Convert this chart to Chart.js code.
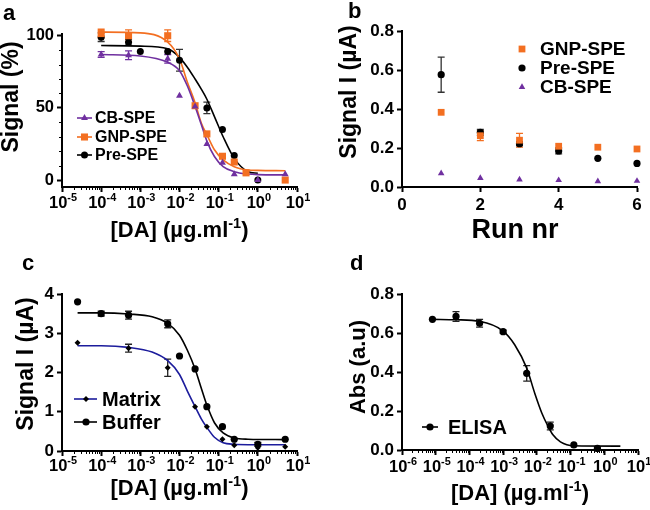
<!DOCTYPE html>
<html>
<head>
<meta charset="utf-8">
<script src="https://cdn.jsdelivr.net/npm/chart.js@4.4.1/dist/chart.umd.min.js"></script>
<style>
  body { margin: 0; background: #fff; }
  #fig { position: relative; width: 650px; height: 510px; }
  canvas { position: absolute; }
</style>
</head>
<body>
<div id="fig">
  <canvas id="pa" width="325" height="255" style="left:0;top:0"></canvas>
  <canvas id="pb" width="325" height="255" style="left:325px;top:0"></canvas>
  <canvas id="pc" width="325" height="255" style="left:0;top:255px"></canvas>
  <canvas id="pd" width="325" height="255" style="left:325px;top:255px"></canvas>
</div>
<script>
// ---- panel a : signal (%) vs dose ----
var aDose = [1e-4, 5e-4, 1e-3, 5e-3, 1e-2, 2.5e-2, 5e-2, 1.25e-1, 2.5e-1, 5e-1, 1, 5];
var aCB = [87, 86.5, null, 84, 58.5, 51, 25, 12, 4, null, 0, 4];
var aCBErr = [2, 3, 0, 3, 0, 0, 0, 0, 0, 0, 0, 0];
var aGNP = [101.5, 100, null, 100, null, 51.5, 32, 16.5, 12.5, 5, null, 0];
var aGNPErr = [3, 4, 0, 4, 0, 0, 0, 0, 0, 0, 0, 0];
var aPre = [99, 95.5, 89, 89, 83, null, 50, 35, 17, null, 0, null];
var aPreErr = [3, 2, 0, 0, 7.5, 0, 4, 0, 0, 0, 0, 0];
var aFitDose = [1e-4, 1e-3, 5e-3, 1e-2, 1.6e-2, 2.5e-2, 3.6e-2, 5e-2, 7.8e-2, 1.3e-1, 2.5e-1, 5.6e-1, 1, 5];
var aFitCB = [87, 86, 81.6, 75.8, 65, 51, 38.5, 27, 16.3, 9.3, 5.8, 4.2, 3.8, 3.6];
var aFitGNP = [102.5, 102, 95.6, 84, 67.6, 53.6, 39.6, 31.5, 21, 14, 9.3, 7, 6.7, 6.5];
var aFitPre = [93.2, 92.8, 91, 85, 78, 70, 63, 56, 44, 30, 15, 5.8, 4.7, null];
var aYTicks = [0, 50, 100];
var aYMinor = [10, 20, 30, 40, 60, 70, 80, 90];

// ---- panel b : signal vs run number ----
var bRuns = [1, 2, 3, 4, 5, 6];
var bGNP = [0.383, 0.263, 0.24, 0.209, 0.204, 0.195];
var bGNPErr = [0, 0.025, 0.035, 0, 0, 0];
var bPre = [0.576, 0.28, 0.222, 0.185, 0.147, 0.121];
var bPreErr = [0.09, 0.015, 0.01, 0.015, 0, 0];
var bCB = [0.07, 0.046, 0.038, 0.035, 0.029, 0.031];
var bXTicks = [0, 2, 4, 6];
var bYTicks = [0, 0.2, 0.4, 0.6, 0.8];

// ---- panel c : matrix vs buffer ----
var cDose = [2.5e-5, 1e-4, 5e-4, 5e-3, 1e-2, 2.5e-2, 5e-2, 1.25e-1, 2.5e-1, 1, 5];
var cBuffer = [3.8, 3.5, 3.46, 3.24, 2.42, 2.09, 1.13, 0.62, 0.3, 0.17, 0.3];
var cBufferErr = [0, 0.06, 0.1, 0.1, 0, 0, 0, 0, 0, 0.05, 0];
var cMatrix = [2.76, null, 2.62, 2.12, null, 1.13, 0.62, 0.3, 0.145, 0.085, 0.11];
var cMatrixErr = [0, 0, 0.1, 0.22, 0, 0, 0, 0, 0, 0, 0];
var cFitDose = [2.5e-5, 1e-4, 5e-4, 2e-3, 5e-3, 1e-2, 1.6e-2, 2.5e-2, 3.6e-2, 5e-2, 7.8e-2, 1.3e-1, 2.5e-1, 5.6e-1, 5];
var cFitBuffer = [3.52, 3.52, 3.49, 3.42, 3.25, 2.95, 2.56, 2.09, 1.6, 1.17, 0.72, 0.46, 0.33, 0.3, 0.29];
var cFitMatrix = [2.68, 2.68, 2.64, 2.52, 2.3, 1.95, 1.52, 1.13, 0.82, 0.6, 0.35, 0.21, 0.17, 0.16, 0.16];
var cYTicks = [0, 1, 2, 3, 4];

// ---- panel d : ELISA ----
var dDose = [8e-6, 4e-5, 2e-4, 1e-3, 5e-3, 2.5e-2, 1.25e-1, 6.25e-1];
var dElisa = [0.67, 0.685, 0.65, 0.607, 0.393, 0.123, 0.026, 0.008];
var dElisaErr = [0, 0.025, 0.02, 0.008, 0.04, 0.02, 0, 0.008];
var dFitDose = [8e-6, 4e-5, 2e-4, 1e-3, 2.2e-3, 5e-3, 8.7e-3, 1.4e-2, 2.1e-2, 3e-2, 5e-2, 1.25e-1, 3];
var dFitElisa = [0.67, 0.668, 0.66, 0.61, 0.54, 0.42, 0.29, 0.19, 0.125, 0.078, 0.042, 0.022, 0.02];
var dYTicks = [0, 0.2, 0.4, 0.6, 0.8];

var FAM = '"Liberation Sans", Arial, Helvetica, sans-serif';
Chart.defaults.font.family = FAM;
Chart.defaults.font.weight = 'bold';
Chart.defaults.color = '#000';

var PURPLE = '#7030a0', ORANGE = '#f36f21', BLACK = '#000', BLUE = '#1c1c9c';

function font(px) { return 'bold ' + px + 'px ' + FAM; }

function pts(xs, ys, es) {
  var out = [];
  xs.forEach(function (x, i) {
    if (ys[i] != null) out.push({ x: x, y: ys[i], e: es ? es[i] : 0 });
  });
  return out;
}

function markers(xs, ys, es, color, style, r, errColor) {
  return {
    data: pts(xs, ys, es), showLine: false, pointStyle: style, pointRadius: r,
    backgroundColor: color, borderColor: color, borderWidth: 0, clip: false,
    errColor: errColor || color
  };
}

function fit(xs, ys, color) {
  return {
    type: 'line', data: pts(xs, ys), pointRadius: 0, borderColor: color, borderWidth: 1.6,
    cubicInterpolationMode: 'monotone', fill: false, clip: false
  };
}

var tickGrid = { display: true, drawOnChartArea: false, drawTicks: true, tickLength: 5, tickWidth: 2, tickColor: '#000' };
var axisBorder = { display: true, color: '#000', width: 2 };

function fixed(list) {
  return function (s) { s.ticks = list.map(function (v) { return { value: v }; }); };
}

function logX(min, max, h) {
  var dec = [];
  for (var n = Math.round(Math.log10(min)); n <= Math.round(Math.log10(max)); n++) dec.push(Math.pow(10, n));
  return {
    type: 'logarithmic', min: min, max: max,
    afterBuildTicks: fixed(dec),
    afterFit: function (s) { s.height = h; },
    ticks: { display: false },
    grid: tickGrid, border: axisBorder
  };
}

function linY(min, max, list, w, size, digits) {
  return {
    type: 'linear', min: min, max: max,
    afterBuildTicks: fixed(list),
    afterFit: function (s) { s.width = w; },
    ticks: {
      padding: 3, font: { size: size, weight: 'bold' },
      callback: function (v) { return digits ? v.toFixed(digits) : String(v); }
    },
    grid: tickGrid, border: axisBorder
  };
}

function drawParts(ctx, parts, cx, baseY, size) {
  var w = 0;
  parts.forEach(function (p) {
    ctx.font = font(p[1] ? size * 0.66 : size);
    p.w = ctx.measureText(p[0]).width;
    w += p.w;
  });
  var x = cx - w / 2;
  ctx.textAlign = 'left';
  ctx.textBaseline = 'alphabetic';
  parts.forEach(function (p) {
    ctx.font = font(p[1] ? size * 0.66 : size);
    ctx.fillText(p[0], x, p[1] ? baseY - size * 0.42 : baseY);
    x += p.w;
  });
}

function makeDeco(o) {
  return {
    id: 'deco',
    beforeDatasetsDraw: function (chart) {
      var ctx = chart.ctx, xs = chart.scales.x, ys = chart.scales.y;
      chart.data.datasets.forEach(function (ds) {
        if (!ds.errColor) return;
        ctx.save();
        ctx.strokeStyle = ds.errColor;
        ctx.lineWidth = 1.3;
        ds.data.forEach(function (p) {
          if (!p.e) return;
          var px = xs.getPixelForValue(p.x);
          var t = ys.getPixelForValue(p.y + p.e), b = ys.getPixelForValue(p.y - p.e);
          ctx.beginPath();
          ctx.moveTo(px, t); ctx.lineTo(px, b);
          ctx.moveTo(px - 3.5, t); ctx.lineTo(px + 3.5, t);
          ctx.moveTo(px - 3.5, b); ctx.lineTo(px + 3.5, b);
          ctx.stroke();
        });
        ctx.restore();
      });
    },
    afterDraw: function (chart) {
      var ctx = chart.ctx, xs = chart.scales.x, ys = chart.scales.y, area = chart.chartArea;
      ctx.save();
      ctx.fillStyle = '#000';
      ctx.strokeStyle = '#000';
      if (xs.type === 'logarithmic') {
        var lo = Math.round(Math.log10(xs.min)), hi = Math.round(Math.log10(xs.max));
        ctx.lineWidth = 1;
        ctx.beginPath();
        for (var n = lo; n < hi; n++) {
          for (var k = 2; k < 10; k++) {
            var px = Math.round(xs.getPixelForValue(k * Math.pow(10, n))) + 0.5;
            ctx.moveTo(px, area.bottom); ctx.lineTo(px, area.bottom + 3);
          }
        }
        ctx.stroke();
        for (var m = lo; m <= hi; m++) {
          drawParts(ctx, [['10', 0], [String(m), 1]], xs.getPixelForValue(Math.pow(10, m)) + 1, o.tickBase, 16.5);
        }
      }
      if (o.yMinor) {
        ctx.lineWidth = 1;
        ctx.beginPath();
        o.yMinor.forEach(function (v) {
          var py = Math.round(ys.getPixelForValue(v)) + 0.5;
          ctx.moveTo(area.left, py); ctx.lineTo(area.left - 3, py);
        });
        ctx.stroke();
      }
      // axis titles
      drawParts(ctx, o.xTitle.parts, o.xTitle.x, o.xTitle.y, o.xTitle.size);
      ctx.save();
      ctx.translate(o.yTitle.x, o.yTitle.y);
      ctx.rotate(-Math.PI / 2);
      ctx.font = font(o.yTitle.size);
      ctx.textAlign = 'center';
      ctx.textBaseline = 'middle';
      ctx.fillText(o.yTitle.text, 0, 0);
      ctx.restore();
      // panel letter
      ctx.font = font(22);
      ctx.textAlign = 'left';
      ctx.textBaseline = 'alphabetic';
      ctx.fillText(o.letter[0], o.letter[1], o.letter[2]);
      // legend
      o.legend.forEach(function (it) {
        ctx.strokeStyle = it.color;
        if (it.line) {
          ctx.lineWidth = 1.6;
          ctx.beginPath();
          ctx.moveTo(it.line[0], it.y); ctx.lineTo(it.line[1], it.y);
          ctx.stroke();
        }
        ctx.fillStyle = it.dot || it.color;
        Chart.helpers.drawPoint(ctx, { pointStyle: it.style, radius: it.r, rotation: 0, borderWidth: 0 }, it.mx, it.y);
        ctx.fillStyle = '#000';
        ctx.font = font(it.size);
        ctx.textAlign = 'left';
        ctx.textBaseline = 'middle';
        ctx.fillText(it.label, it.tx, it.y + 1);
      });
      ctx.restore();
    }
  };
}

function panel(id, datasets, scales, padding, deco) {
  return new Chart(document.getElementById(id), {
    type: 'scatter',
    data: { datasets: datasets },
    options: {
      responsive: false, animation: false, devicePixelRatio: 1,
      layout: { padding: padding },
      scales: scales,
      plugins: { legend: { display: false }, tooltip: { enabled: false } }
    },
    plugins: [makeDeco(deco)]
  });
}

var daTitle = [['[DA] (\u00b5g.ml', 0], ['-1', 1], [')', 0]];

// panel a
panel('pa', [
  markers(aDose, aCB, aCBErr, PURPLE, 'triangle', 4),
  markers(aDose, aGNP, aGNPErr, ORANGE, 'rect', 5),
  markers(aDose, aPre, aPreErr, BLACK, 'circle', 3.5, '#333'),
  fit(aFitDose, aFitCB, PURPLE),
  fit(aFitDose, aFitGNP, ORANGE),
  fit(aFitDose, aFitPre, BLACK)
], {
  x: logX(1e-5, 10, 68),
  y: linY(-4.8, 101.2, aYTicks, 62, 16.5, 0)
}, { left: 0, right: 28, top: 34, bottom: 0 }, {
  tickBase: 208, yMinor: aYMinor,
  xTitle: { parts: daTitle, x: 179.5, y: 237, size: 22 },
  yTitle: { text: 'Signal (%)', x: 12, y: 97, size: 23 },
  letter: ['a', 3, 20],
  legend: [
    { label: 'CB-SPE', color: PURPLE, style: 'triangle', r: 4, line: [77, 92], mx: 84.5, tx: 95, y: 118, size: 16 },
    { label: 'GNP-SPE', color: ORANGE, style: 'rect', r: 5, line: [77, 92], mx: 84.5, tx: 95, y: 137, size: 16 },
    { label: 'Pre-SPE', color: BLACK, style: 'circle', r: 3.5, line: [77, 92], mx: 84.5, tx: 95, y: 155, size: 16 }
  ]
});

// panel b
var bx = {
  type: 'linear', min: 0, max: 6,
  afterBuildTicks: fixed(bXTicks),
  afterFit: function (s) { s.height = 68; },
  ticks: { padding: 3, font: { size: 17, weight: 'bold' } },
  grid: tickGrid, border: axisBorder
};
panel('pb', [
  markers(bRuns, bGNP, bGNPErr, ORANGE, 'rect', 4.8),
  markers(bRuns, bPre, bPreErr, BLACK, 'circle', 3.6, '#333'),
  markers(bRuns, bCB, null, PURPLE, 'triangle', 3.8)
], {
  x: bx,
  y: linY(0, 0.8, bYTicks, 77, 17, 1)
}, { left: 0, right: 13, top: 31, bottom: 0 }, {
  xTitle: { parts: [['Run nr', 0]], x: 190, y: 238, size: 27 },
  yTitle: { text: 'Signal I (\u00b5A)', x: 25, y: 92, size: 23 },
  letter: ['b', 23, 18],
  legend: [
    { label: 'GNP-SPE', color: ORANGE, style: 'rect', r: 4.8, mx: 197, tx: 215, y: 49, size: 19 },
    { label: 'Pre-SPE', color: BLACK, style: 'circle', r: 3.6, mx: 197, tx: 215, y: 68, size: 19 },
    { label: 'CB-SPE', color: PURPLE, style: 'triangle', r: 3.8, mx: 197, tx: 215, y: 87, size: 19 }
  ]
});

// panel c
panel('pc', [
  markers(cDose, cMatrix, cMatrixErr, BLACK, 'rectRot', 3, '#222'),
  markers(cDose, cBuffer, cBufferErr, BLACK, 'circle', 3.6, '#222'),
  fit(cFitDose, cFitMatrix, BLUE),
  fit(cFitDose, cFitBuffer, BLACK)
], {
  x: logX(1e-5, 10, 59),
  y: linY(0, 4, cYTicks, 62, 17, 0)
}, { left: 0, right: 28, top: 39, bottom: 0 }, {
  tickBase: 216,
  xTitle: { parts: daTitle, x: 179.5, y: 240, size: 22 },
  yTitle: { text: 'Signal I (\u00b5A)', x: 27, y: 109, size: 23 },
  letter: ['c', 22, 15],
  legend: [
    { label: 'Matrix', color: BLUE, dot: BLACK, style: 'rectRot', r: 3, line: [74, 97], mx: 86, tx: 102, y: 144, size: 20 },
    { label: 'Buffer', color: BLACK, style: 'circle', r: 3.6, line: [74, 97], mx: 86, tx: 102, y: 167, size: 20 }
  ]
});

// panel d
panel('pd', [
  markers(dDose, dElisa, dElisaErr, BLACK, 'circle', 3.6, '#222'),
  fit(dFitDose, dFitElisa, BLACK)
], {
  x: logX(1e-6, 10, 60),
  y: linY(0, 0.8, dYTicks, 77, 17, 1)
}, { left: 0, right: 12, top: 39, bottom: 0 }, {
  tickBase: 217,
  xTitle: { parts: daTitle, x: 195, y: 245, size: 22 },
  yTitle: { text: 'Abs (a.u)', x: 34, y: 112, size: 22 },
  letter: ['d', 25, 15],
  legend: [
    { label: 'ELISA', color: BLACK, style: 'circle', r: 3.6, line: [97, 113], mx: 105, tx: 123, y: 172, size: 20 }
  ]
});
</script>
</body>
</html>
